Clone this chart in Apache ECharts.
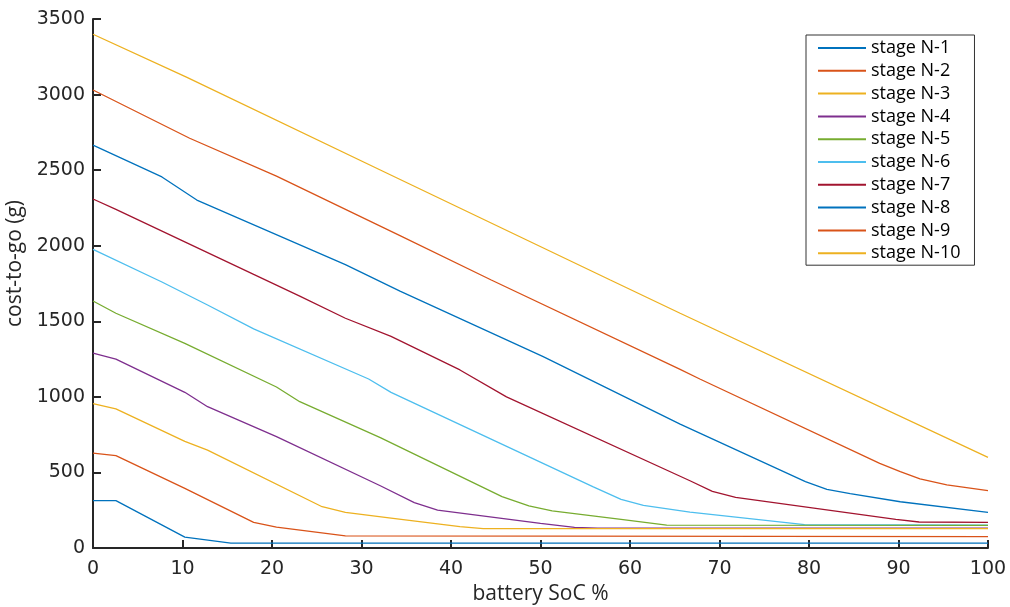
<!DOCTYPE html>
<html>
<head>
<meta charset="utf-8">
<script src="https://cdn.jsdelivr.net/npm/echarts@6/dist/echarts.min.js"></script>
<style>
  html, body { margin: 0; padding: 0; background: #fff; }
  #chart { width: 1010px; height: 607px; }
</style>
</head>
<body>
<div id="chart"></div>
<script>
// cost-to-go per stage, [SoC %, grams]
const stageN1 = [[0, 313], [2.56, 313], [10.26, 72], [15.4, 32], [100, 32]]
const stageN2 = [[0, 628], [2.56, 611], [10.26, 395], [17.95, 170], [20.5, 138], [28.2, 80], [100, 75]]
const stageN3 = [[0, 955], [2.56, 920], [10.26, 706], [12.8, 648], [25.6, 273], [28.2, 236], [33.3, 198], [41, 141], [43.6, 128], [100, 128]]
const stageN4 = [[0, 1290], [2.56, 1250], [10.26, 1030], [12.8, 935], [20.5, 737], [32.1, 412], [35.9, 300], [38.5, 251], [50, 163], [53.8, 137], [56.4, 132], [100, 132]]
const stageN5 = [[0, 1634], [2.56, 1553], [10.26, 1354], [20.5, 1065], [23.1, 968], [32.1, 730], [45.7, 340], [48.7, 278], [51.3, 245], [59, 190], [64.1, 152], [100, 150]]
const stageN6 = [[0, 1976], [7.7, 1760], [12.8, 1608], [17.95, 1450], [30.8, 1118], [33.3, 1030], [55.9, 405], [59, 322], [61.5, 282], [66.7, 238], [79.5, 155], [100, 152]]
const stageN7 = [[0, 2309], [2.56, 2240], [17.95, 1810], [23.1, 1667], [28.2, 1520], [33.3, 1400], [41, 1178], [46.2, 1000], [66.7, 445], [69.2, 375], [71.8, 335], [89.7, 190], [92.3, 172], [100, 170]]
const stageN8 = [[0, 2666], [7.7, 2455], [11.6, 2302], [28.2, 1875], [34.3, 1700], [50.3, 1266], [65.6, 820], [79.6, 439], [82, 388], [84.6, 360], [90.2, 306], [100, 236]]
const stageN9 = [[0, 3030], [10.8, 2711], [20.5, 2460], [34.3, 2067], [44.5, 1773], [65.6, 1182], [67.8, 1118], [87.9, 560], [90.2, 505], [92.4, 457], [95.4, 417], [100, 379]]
const stageN10 = [[0, 3399], [10.5, 3114], [32.1, 2501], [57.8, 1773], [65.6, 1553], [100, 600]]

const stageNames = ['stage N-1', 'stage N-2', 'stage N-3', 'stage N-4', 'stage N-5',
  'stage N-6', 'stage N-7', 'stage N-8', 'stage N-9', 'stage N-10']
const stageData = [stageN1, stageN2, stageN3, stageN4, stageN5,
  stageN6, stageN7, stageN8, stageN9, stageN10]
const colors = ['#0072BD', '#D95319', '#EDB120', '#7E2F8E', '#77AC30',
  '#4DBEEE', '#A2142F', '#0072BD', '#D95319', '#EDB120']

const axisColor = '#262626'
const tickFont = 'DejaVu Sans'
const textFont = 'Open Sans'

const chart = echarts.init(document.getElementById('chart'))

chart.setOption({
  animation: false,
  color: colors,
  grid: { left: 93, right: 22, top: 19, bottom: 59, outerBoundsMode: 'none' },
  legend: {
    orient: 'vertical',
    left: 806,
    top: 35,
    data: stageNames,
    itemWidth: 48,
    itemHeight: 14,
    itemGap: 4.8,
    padding: [4, 14, 3, 11],
    borderColor: '#333',
    borderWidth: 1,
    backgroundColor: '#fff',
    itemStyle: { opacity: 0 },
    textStyle: { color: '#000', fontFamily: textFont, fontSize: 18, lineHeight: 18 }
  },
  xAxis: {
    type: 'value',
    min: 0,
    max: 100,
    interval: 10,
    name: 'battery SoC %',
    nameLocation: 'middle',
    nameGap: 36,
    nameTextStyle: { color: axisColor, fontFamily: textFont, fontSize: 21 },
    axisLine: { lineStyle: { color: axisColor, width: 2 } },
    axisTick: { inside: true, length: 8, lineStyle: { color: axisColor, width: 2 } },
    axisLabel: { color: axisColor, fontFamily: tickFont, fontSize: 19, margin: 12 },
    splitLine: { show: false }
  },
  yAxis: {
    type: 'value',
    min: 0,
    max: 3500,
    interval: 500,
    name: 'cost-to-go (g)',
    nameLocation: 'middle',
    nameGap: 60,
    nameTextStyle: { color: axisColor, fontFamily: textFont, fontSize: 21, padding: [0, 0, 0, 40] },
    axisLine: { show: true, lineStyle: { color: axisColor, width: 2 } },
    axisTick: { show: true, inside: true, length: 8, lineStyle: { color: axisColor, width: 2 } },
    axisLabel: { color: axisColor, fontFamily: tickFont, fontSize: 19, margin: 8, formatter: v => String(v) },
    splitLine: { show: false }
  },
  series: stageNames.map((name, i) => ({
    name,
    type: 'line',
    data: stageData[i],
    symbol: 'none',
    lineStyle: { width: 1.3, color: colors[i] },
    itemStyle: { color: colors[i] },
    z: 10 - i
  }))
})
</script>
</body>
</html>
